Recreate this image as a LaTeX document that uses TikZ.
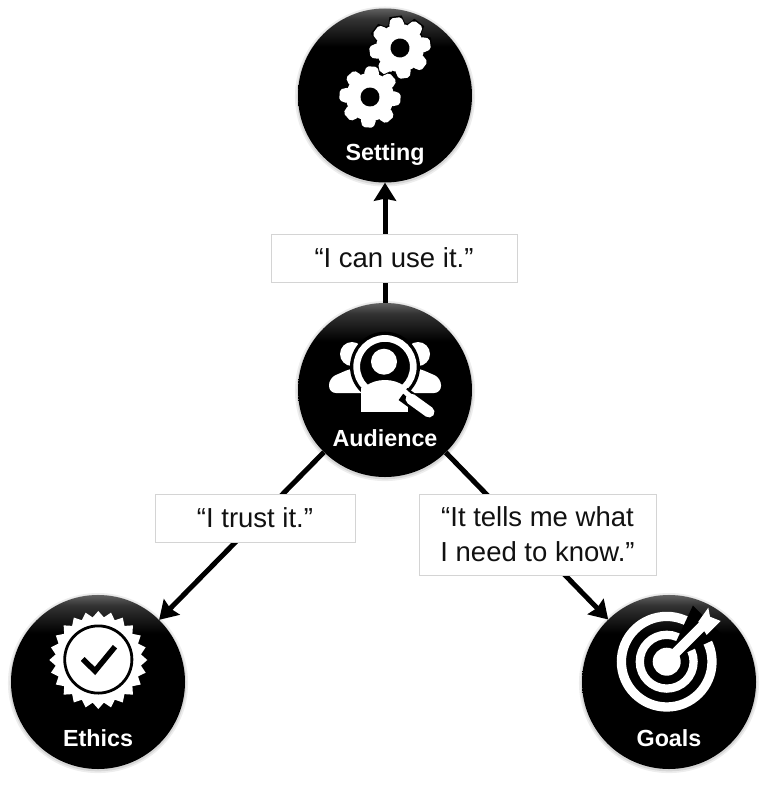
\documentclass[tikz,border=0pt]{standalone}
\usepackage{fontspec}
\setmainfont{Liberation Sans}
\usepackage{tikz}
\usetikzlibrary{arrows.meta, shadows}
\definecolor{bordegris}{HTML}{D4D4D4}
\definecolor{textonegro}{HTML}{111111}
\pgfdeclareverticalshading{hubshade}{100bp}{color(0bp)=(black); color(64bp)=(black); color(72bp)=(black!80); color(75bp)=(black!62); color(100bp)=(black!62)}
% one gear: centre x, centre y, turn
\newcommand{\gearicon}[3]{
  \begin{scope}[shift={(#1,#2)}, rotate=#3]
    \draw[black, line width=3pt] (0,0) circle[radius=24];
    \foreach \t in {0,45,...,315}
      \draw[black, line width=3pt, rotate=\t] (-7.5,-22) -- (-5,-30.5) -- (5,-30.5) -- (7.5,-22) -- cycle;
    \fill[white] (0,0) circle[radius=24];
    \foreach \t in {0,45,...,315}
      \fill[white, rounded corners=2pt, rotate=\t] (-8,-22) -- (-5.5,-30.5) -- (5.5,-30.5) -- (8,-22) -- cycle;
    \fill[black] (0,0) circle[radius=9.5];
  \end{scope}
}
\begin{document}
\begin{tikzpicture}[
  x=1pt, y=-1pt,
  hub/.style={
    circle, inner sep=0pt, minimum size=174pt, shading=hubshade,
    general shadow={fill=black!7, shadow scale=1.035, shadow yshift=-1pt},
    general shadow={fill=black!16, shadow scale=1.015, shadow yshift=-1pt}
  },
  hubname/.style={text=white, font=\fontsize{23.3}{26}\selectfont\bfseries, inner sep=0pt, anchor=base},
  saying/.style={
    rectangle, draw=bordegris, fill=white, line width=0.8pt, text=textonegro,
    font=\fontsize{27.5}{35}\selectfont, align=center, inner sep=0pt
  },
  arr/.style={-{Stealth[length=18pt, width=22pt, inset=2pt]}, black, line width=5pt}
]
  \useasboundingbox (0,0) rectangle (768,785);
  \node[hub] (setting) at (385,95.5) {};
  \node[hub] (audience) at (385,390) {};
  \node[hub] (ethics) at (98,682) {};
  \node[hub] (goals) at (669,682) {};
  \foreach \a/\b in {audience/setting,audience/ethics,audience/goals}
    \draw[arr] (\a)--(\b);
  \node[saying, minimum width=246pt, minimum height=48pt] (canuse) at (394,258) {“I can use it.”};
  \node[saying, minimum width=200pt, minimum height=48pt] (trust) at (255,518) {“I trust it.”};
  \node[saying, minimum width=237pt, minimum height=81pt] (know) at (537.5,534.5) {“It tells me what\\I need to know.”};
  \node[hubname] (settingname) at (385,160.5) {Setting};
  \node[hubname] (audiencename) at (385,446) {Audience};
  \node[hubname] (ethicsname) at (98,746.5) {Ethics};
  \node[hubname] (goalsname) at (669,746.5) {Goals};
  % gears
  \gearicon{400}{48}{8}
  \gearicon{370}{97}{-4}
  % people under the lens
  \fill[white] (352,354) circle[radius=12] (418,354) circle[radius=12];
  \fill[white, rounded corners=7pt] (329,393) -- (329,378) -- (352,368) -- (372,368) -- (372,393) -- cycle;
  \fill[white, rounded corners=7pt] (441,393) -- (441,378) -- (418,368) -- (398,368) -- (398,393) -- cycle;
  \fill[black] (385,366.7) circle[radius=35];
  \fill[white] (361,388) rectangle (408,412);
  \begin{scope}
    \clip (385,366.7) circle[radius=28];
    \fill[black] (385,366.7) circle[radius=28];
    \fill[white] (384,361.7) circle[radius=13];
    \fill[white] (385,400) ellipse[x radius=27, y radius=20];
  \end{scope}
  \draw[white, line width=6.7pt] (385,366.7) circle[radius=28.3];
  \draw[black, line width=15pt] (403,394) -- (432,415);
  \draw[white, line width=5pt] (403,390) -- (412,398);
  \draw[white, line width=11pt, line cap=round] (411,399) -- (429,412);
  % seal
  \fill[white] plot[domain=0:360, samples=49] ({98.3+(46+3*cos(24*\x))*cos(\x)}, {660+(46+3*cos(24*\x))*sin(\x)}) -- cycle;
  \draw[black, line width=2.8pt] (98.3,659.5) circle[radius=33.6];
  \draw[black, line width=5.5pt] (82.7,659) -- (95,671) -- (115,646.7);
  % target
  \draw[white, line width=9.3pt] (666.7,661.7) circle[radius=45.3];
  \draw[white, line width=8.3pt] (666.7,661.7) circle[radius=26.9];
  \fill[black] (666.7,661.7) -- +(-25:62) -- +(-65:62) -- cycle;
  \fill[white] (666.7,661.7) circle[radius=14];
  \draw[white, line width=10pt] (666.7,661.7) -- (703,625.4);
  \fill[white] (698.3,621.7) -- (708.3,607.7) -- (710,616.7) -- (720.7,621) -- (706.7,635) -- cycle;
\end{tikzpicture}
\end{document}
